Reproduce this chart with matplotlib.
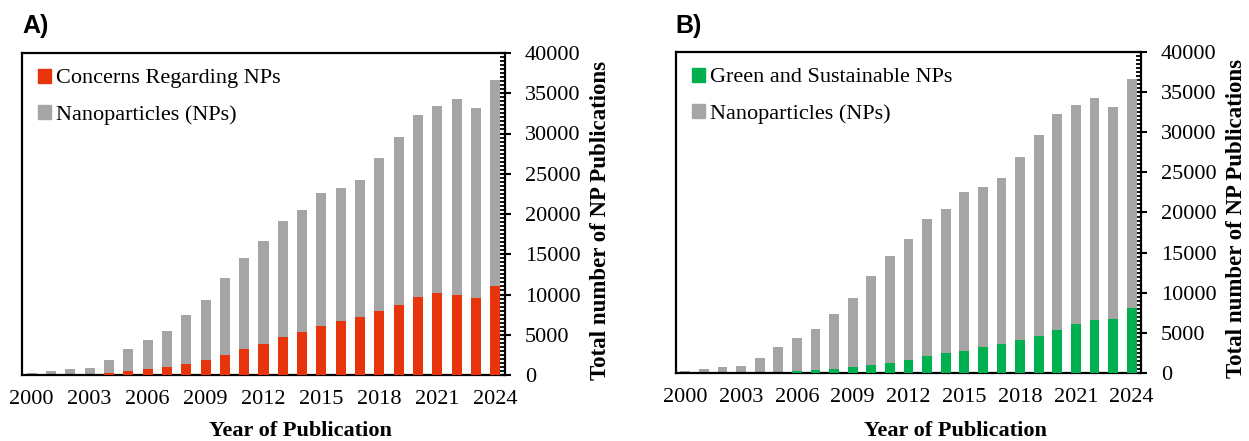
import matplotlib
matplotlib.use("Agg")
import matplotlib.pyplot as plt
from matplotlib.patches import Patch
from matplotlib.ticker import MultipleLocator
import numpy as np

# publication counts per year
years = np.arange(2000, 2025)
np_total = [300, 500, 700, 900, 1860, 3190, 4350, 5500, 7410, 9300,
            12050, 14570, 16640, 19170, 20490, 22560, 23190, 24260, 26900, 29600,
            32290, 33450, 34280, 33160, 36640]
np_concerns = [0, 0, 0, 0, 200, 460, 700, 990, 1370, 1860,
               2480, 3270, 3850, 4760, 5380, 6130, 6670, 7240, 7910, 8730,
               9720, 10140, 9940, 9520, 11090]
np_green = [0, 0, 0, 0, 0, 0, 250, 330, 540, 750,
            1040, 1290, 1620, 2080, 2450, 2780, 3240, 3570, 4110, 4650,
            5400, 6110, 6650, 6770, 8140]

xticks = np.arange(2000, 2025, 3)

serif = ["Liberation Serif", "DejaVu Serif"]
GRAY = "#a5a5a5"
RED = "#e8340c"
GREEN = "#00b050"

W, H = 1249, 441
fig = plt.figure(figsize=(W / 100, H / 100), dpi=100)


def panel(rect, sub, sub_color, sub_label, letter, letter_x, xlabel_x):
    ax = fig.add_axes(rect)
    ax.bar(years, np_total, width=0.52, color=GRAY, zorder=2)
    ax.bar(years, sub, width=0.52, color=sub_color, zorder=3)
    ax.set_xlim(1999.5, 2024.5)
    ax.set_ylim(0, 40000)
    ax.set_xticks(xticks)
    ax.set_xticklabels([str(y) for y in xticks], family=serif, fontsize=16)
    ax.yaxis.tick_right()
    ax.yaxis.set_label_position("right")
    ax.yaxis.set_major_locator(MultipleLocator(5000))
    ax.yaxis.set_minor_locator(MultipleLocator(500))
    for t in ax.get_yticklabels():
        t.set_family(serif)
        t.set_fontsize(16)
    ax.tick_params(axis="x", length=0, pad=11)
    ax.tick_params(axis="y", which="major", direction="inout", length=8.5,
                   width=1.5, pad=10)
    ax.tick_params(axis="y", which="minor", direction="in", length=3.5, width=1.3)
    for s in ax.spines.values():
        s.set_linewidth(1.6)
    ax.set_ylabel("Total number of NP Publications", family=serif,
                  fontweight="bold", fontsize=16.5, labelpad=8)
    ax.yaxis.label.set_va("center")
    ax.yaxis.set_label_coords(1.0 + 95 / (rect[2] * W), 0.48)
    fig.text(xlabel_x / W, 1 - 431 / H, "Year of Publication", family=serif,
             fontweight="bold", fontsize=16, ha="center", va="center")
    handles = [Patch(color=sub_color, label=sub_label),
               Patch(color=GRAY, label="Nanoparticles (NPs)")]
    ax.legend(handles=handles, loc="upper left", frameon=False,
              prop={"family": serif, "size": 16}, handlelength=0.6,
              handleheight=0.6, handletextpad=0.25, labelspacing=0.75,
              borderaxespad=0.3, bbox_to_anchor=(0.0, 1.0))
    fig.text(letter_x / W, 1 - 26 / H, letter, family="Liberation Sans",
             fontweight="bold", fontsize=18, ha="left", va="center")
    return ax


panel([22 / W, 1 - 375 / H, 483 / W, 322 / H], np_concerns, RED,
      "Concerns Regarding NPs", "A)", 22, 300)
panel([676 / W, 1 - 373 / H, 465 / W, 321 / H], np_green, GREEN,
      "Green and Sustainable NPs", "B)", 675, 955)

fig.savefig("out.png", dpi=100)
